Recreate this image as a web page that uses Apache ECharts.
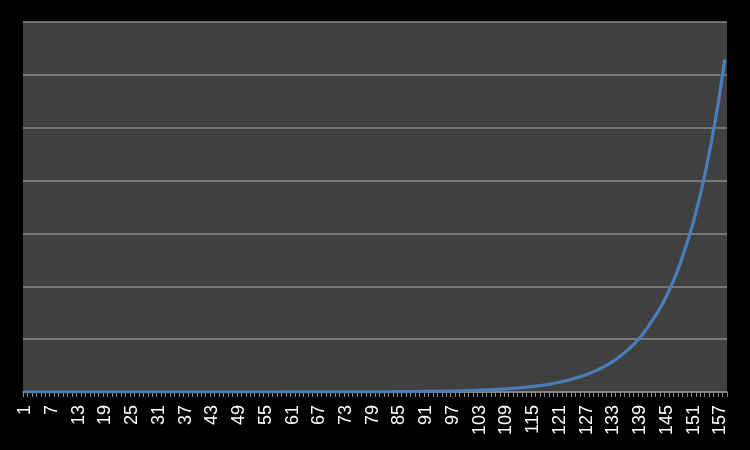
<!DOCTYPE html>
<html>
<head>
<meta charset="utf-8">
<script src="https://cdn.jsdelivr.net/npm/echarts@6/dist/echarts.min.js"></script>
<style>
html,body{margin:0;padding:0;background:#000;}
#chart{width:750px;height:450px;}
</style>
</head>
<body>
<div id="chart"></div>
<script>
// Category labels 1..158
var categories = [];
for (var c = 1; c <= 158; c++) categories.push(String(c));

// Series values
var values = [
  0.000,0.000,0.000,0.000,0.000,0.000,0.000,0.000,0.000,0.000,
  0.000,0.000,0.000,0.000,0.000,0.000,0.000,0.000,0.000,0.000,
  0.000,0.000,0.000,0.000,0.000,0.000,0.000,0.000,0.000,0.000,
  0.001,0.001,0.001,0.001,0.001,0.001,0.001,0.001,0.001,0.001,
  0.001,0.001,0.001,0.001,0.002,0.002,0.002,0.002,0.002,0.002,
  0.002,0.003,0.003,0.003,0.003,0.004,0.004,0.004,0.005,0.005,
  0.006,0.006,0.007,0.008,0.008,0.009,0.010,0.011,0.012,0.013,
  0.014,0.015,0.017,0.018,0.020,0.022,0.024,
  0.032,0.035,0.038,0.042,0.046,0.051,0.056,0.062,0.068,0.075,
  0.08,0.09,0.10,0.11,0.12,0.13,0.14,0.16,0.17,0.19,
  0.21,0.23,0.25,0.28,0.31,0.34,0.37,0.41,0.45,0.50,
  0.55,0.60,0.66,0.72,0.80,0.88,0.96,1.06,1.17,1.28,
  1.41,1.55,1.70,1.87,2.06,2.26,2.49,2.74,3.01,3.31,
  3.64,4.00,4.40,4.84,5.32,5.85,6.43,7.08,7.78,8.56,
  9.41,10.3,11.4,12.6,13.9,15.2,16.6,18.3,20.1,22.1,
  24.3,26.8,29.4,32.3,35.6,39.1,43.0,47.3,52.0,57.2,
  62.9
];

var chart = echarts.init(document.getElementById('chart'), null, {renderer: 'canvas'});
chart.setOption({
  backgroundColor: '#000000',
  animation: false,
  grid: {
    left: 23, right: 23, top: 22, bottom: 58,
    show: true, backgroundColor: '#404040', borderWidth: 0
  },
  xAxis: {
    type: 'category',
    data: categories,
    boundaryGap: true,
    axisLine: {show: true, lineStyle: {color: '#8a8a8a', width: 1.5}},
    axisTick: {show: true, interval: 0, length: 5, lineStyle: {color: '#8a8a8a', width: 1}},
    axisLabel: {
      interval: 5, rotate: 90, margin: 13,
      color: '#ffffff', fontSize: 18, fontFamily: 'Liberation Sans'
    },
    splitLine: {show: false}
  },
  yAxis: {
    type: 'value',
    min: 0, max: 70, interval: 10,
    axisLine: {show: false},
    axisTick: {show: false},
    axisLabel: {show: false},
    splitLine: {show: true, lineStyle: {color: '#8a8a8a', width: 1.5}}
  },
  series: [{
    type: 'line',
    data: values,
    showSymbol: false,
    symbol: 'none',
    smooth: false,
    lineStyle: {color: '#4a7ebb', width: 3.2},
    itemStyle: {color: '#4a7ebb'}
  }]
});
</script>
</body>
</html>
